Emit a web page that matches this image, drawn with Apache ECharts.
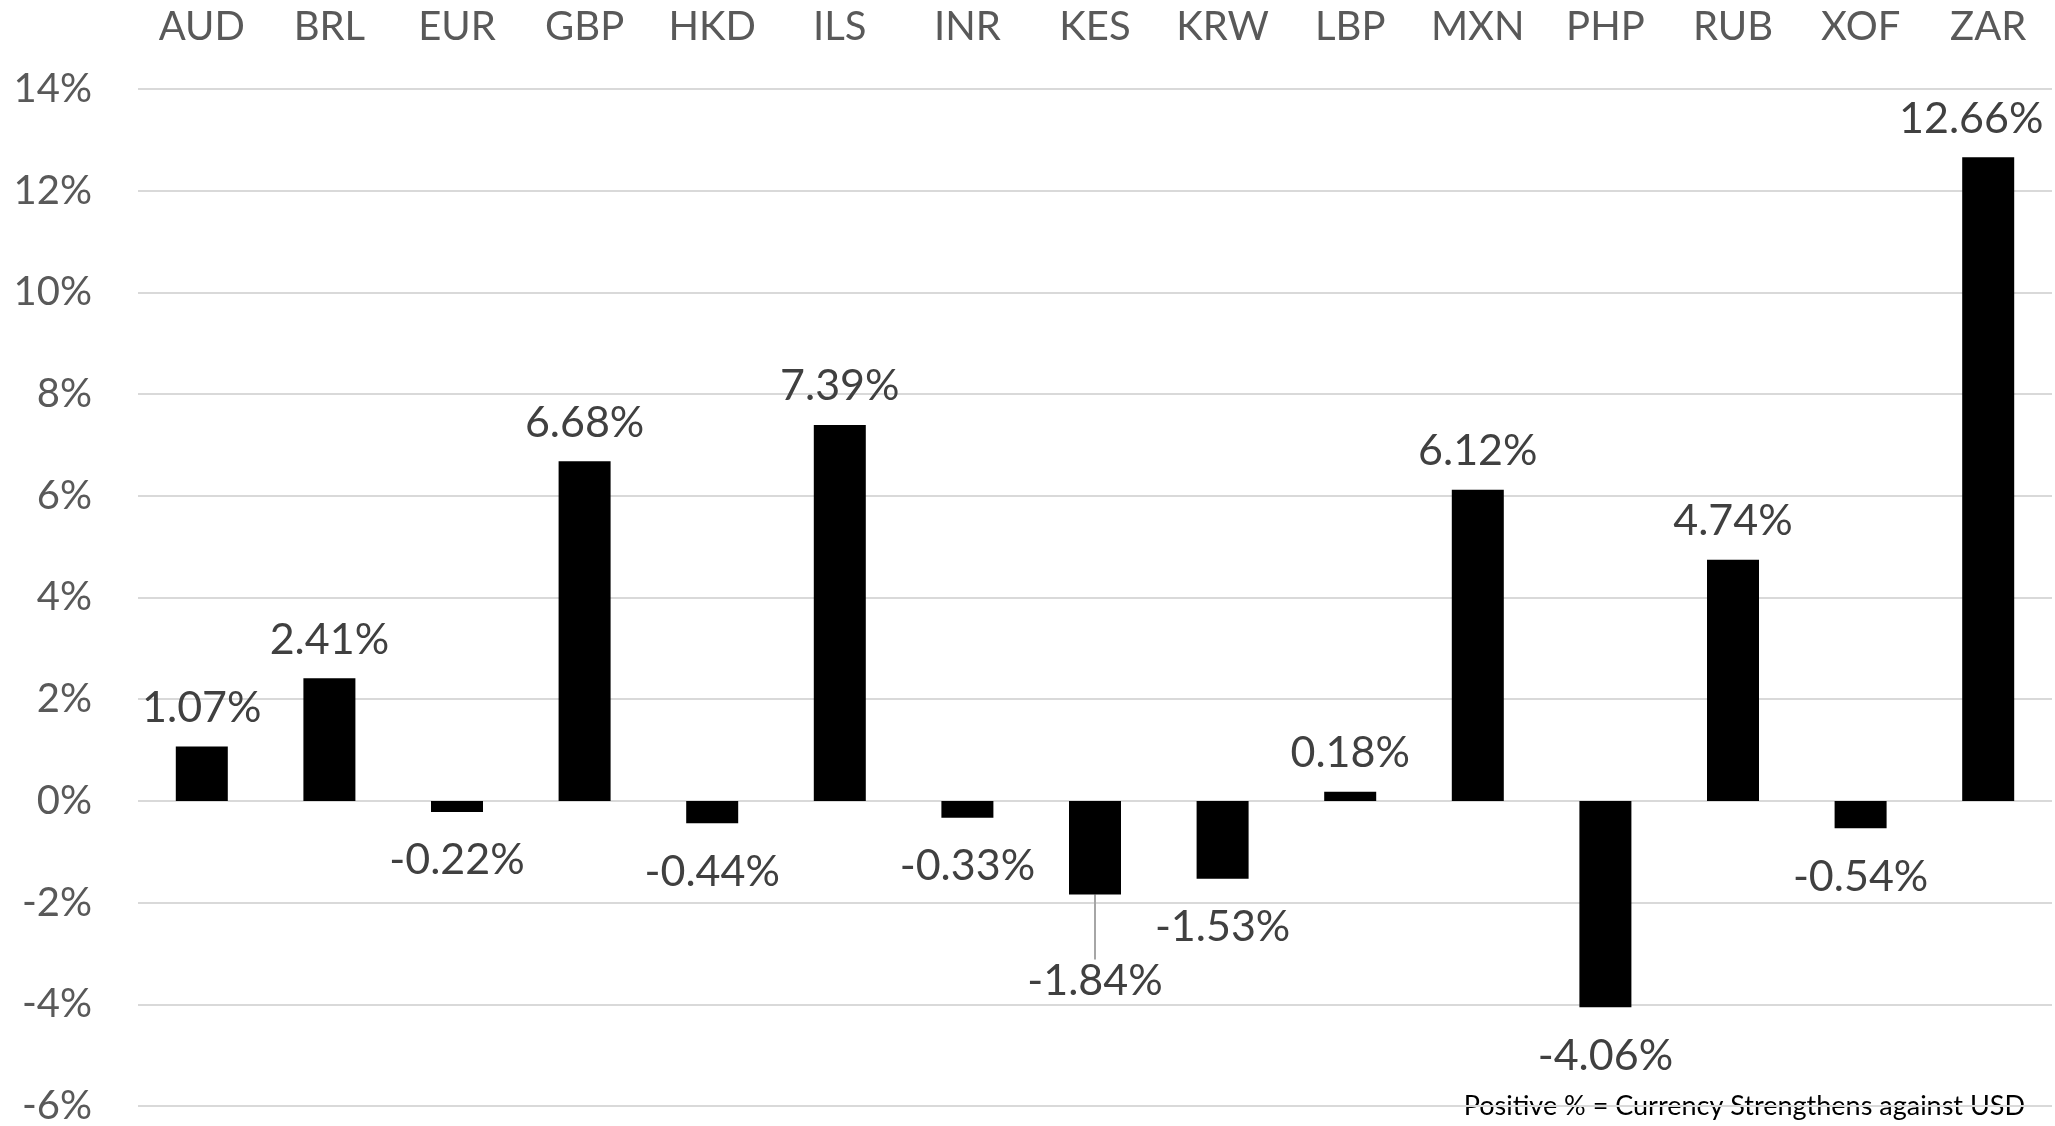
<!DOCTYPE html>
<html>
<head>
<meta charset="utf-8">
<script src="https://cdn.jsdelivr.net/npm/echarts@6/dist/echarts.min.js"></script>
<style>
  html, body { margin: 0; padding: 0; background: #fff; }
  #chart { width: 2055px; height: 1126px; }
</style>
</head>
<body>
<div id="chart"></div>
<script>
// currencies along the top axis
const currencies = ['AUD', 'BRL', 'EUR', 'GBP', 'HKD', 'ILS', 'INR', 'KES', 'KRW', 'LBP', 'MXN', 'PHP', 'RUB', 'XOF', 'ZAR']
// change vs USD, in percent
const changePct = [1.07, 2.41, -0.22, 6.68, -0.44, 7.39, -0.33, -1.84, -1.53, 0.18, 6.12, -4.06, 4.74, -0.54, 12.66]
const yMin = -6
const yMax = 14
const yStep = 2
const footnote = 'Positive % = Currency Strengthens against USD'

const FONT = 'Lato, "Open Sans", sans-serif'

const chart = echarts.init(document.getElementById('chart'))

chart.setOption({
  animation: false,
  grid: { left: 138, right: 3, top: 89, bottom: 17, containLabel: false },
  xAxis: {
    type: 'category',
    position: 'top',
    data: currencies,
    axisLine: { show: false },
    axisTick: { show: false },
    axisLabel: { color: '#595959', fontSize: 40, fontFamily: FONT, margin: 42 }
  },
  yAxis: {
    type: 'value',
    min: yMin,
    max: yMax,
    interval: yStep,
    axisLabel: {
      color: '#595959', fontSize: 40, fontFamily: FONT, margin: 46,
      formatter: '{value}%'
    },
    splitLine: { show: true, lineStyle: { color: '#d9d9d9', width: 2 } }
  },
  series: [{
    type: 'bar',
    barWidth: 52,
    itemStyle: { color: '#000' },
    data: changePct.map((v, i) => ({
      value: v,
      label: { distance: v < 0 ? 27 : 17 },
      // KES label sits lower with a leader line
      labelLine: i === 7 ? { show: true, lineStyle: { color: '#a6a6a6', width: 2 } } : { show: false }
    })),
    label: {
      show: true,
      position: 'outside',
      color: '#404040',
      fontSize: 43,
      fontFamily: FONT,
      formatter: p => p.value.toFixed(2) + '%'
    },
    labelLayout: p => {
      if (p.dataIndex === 7) return { dy: 38 }
      if (p.dataIndex === 14) return { dx: -17 }  // keep last label inside the chart
      return {}
    }
  }],
  graphic: [{
    type: 'text',
    right: 30,
    top: 1093,
    style: { text: footnote, font: '27px ' + FONT, fill: '#000' }
  }]
})

window.addEventListener('resize', () => {
  chart.resize()
})
</script>
</body>
</html>
